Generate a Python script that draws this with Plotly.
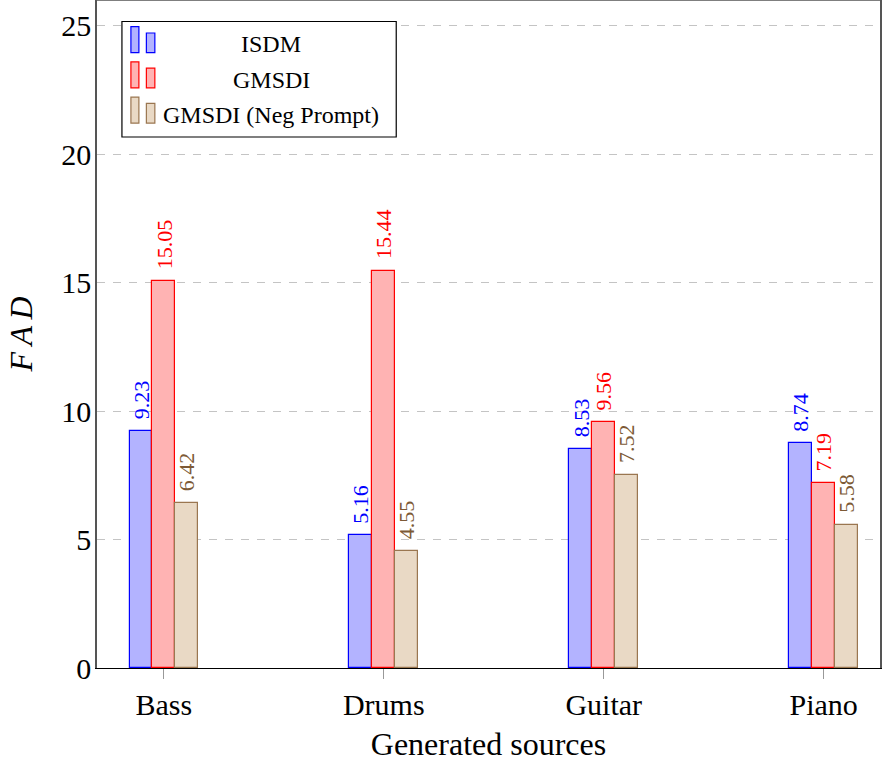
import plotly.graph_objects as go

# ---- data -------------------------------------------------------------
sources = ["Bass", "Drums", "Guitar", "Piano"]
series_names = ["ISDM", "GMSDI", "GMSDI (Neg Prompt)"]
isdm = [9.23, 5.16, 8.53, 8.74]
gmsdi = [15.05, 15.44, 9.56, 7.19]
gmsdi_neg = [6.42, 4.55, 7.52, 5.58]
y_ticks = [0, 5, 10, 15, 20, 25]

# ---- styling ----------------------------------------------------------
FONT = "Liberation Serif, DejaVu Serif, serif"
fills = ["#b3b3ff", "#ffb3b3", "#e9d9c5"]
edges = ["#0000ff", "#ff0000", "#9a7650"]
label_colors = ["#0000ff", "#ff0000", "#7d5a36"]

W, H = 882, 767
ML, MR, MT, MB = 97, 0, 0, 99
PW, PH = W - ML - MR, H - MT - MB

BAR_W = 0.104
offsets = [-1.5 * BAR_W, -0.5 * BAR_W, 0.5 * BAR_W]
xpos = list(range(len(sources)))

fig = go.Figure()
for name, vals, fc, ec, off in zip(series_names, [isdm, gmsdi, gmsdi_neg], fills, edges, offsets):
    fig.add_trace(go.Bar(
        x=xpos, y=vals, name=name,
        width=BAR_W, offset=off,
        marker=dict(color=fc, line=dict(color=ec, width=1.2)),
        showlegend=False,
    ))

# value labels above bars, rotated
annotations = []
for vals, lc, off in zip([isdm, gmsdi, gmsdi_neg], label_colors, offsets):
    for xi, v in zip(xpos, vals):
        annotations.append(dict(
            x=xi + off + BAR_W / 2, y=v, xref="x", yref="y",
            text=f"{v:.2f}", showarrow=False, textangle=-90,
            xanchor="center", yanchor="bottom", yshift=10,
            font=dict(family=FONT, size=22, color=lc),
        ))


def px_x(x):
    return (x - ML) / PW


def px_y(y):
    return (MT + PH - y) / PH


# custom legend box
shapes = [dict(type="rect", xref="paper", yref="paper",
               x0=px_x(122), x1=px_x(397), y0=px_y(137), y1=px_y(21.5),
               fillcolor="white", line=dict(color="black", width=1.2), layer="above")]
for i, (name, fc, ec) in enumerate(zip(series_names, fills, edges)):
    dy = 35.2 * i
    shapes.append(dict(type="rect", xref="paper", yref="paper",
                       x0=px_x(131), x1=px_x(139), y0=px_y(52.7 + dy), y1=px_y(26.7 + dy),
                       fillcolor=fc, line=dict(color=ec, width=1.2), layer="above"))
    shapes.append(dict(type="rect", xref="paper", yref="paper",
                       x0=px_x(146.5), x1=px_x(155), y0=px_y(52.7 + dy), y1=px_y(33 + dy),
                       fillcolor=fc, line=dict(color=ec, width=1.2), layer="above"))
    annotations.append(dict(
        x=px_x(271.5), y=px_y(44.5 + dy), xref="paper", yref="paper",
        text=name, showarrow=False, xanchor="center", yanchor="middle",
        font=dict(family=FONT, size=24, color="black"),
    ))

# top frame line
shapes.append(dict(type="line", xref="paper", yref="paper",
                   x0=0, x1=1, y0=1, y1=1, line=dict(color="#555555", width=1.5)))

fig.update_layout(
    width=W, height=H,
    margin=dict(l=ML, r=MR, t=MT, b=MB, pad=0),
    plot_bgcolor="white", paper_bgcolor="white",
    font=dict(family=FONT, size=29, color="black"),
    bargap=0, barmode="overlay",
    annotations=annotations, shapes=shapes,
    xaxis=dict(
        range=[-0.3039, 3.2562],
        tickvals=xpos, ticktext=sources,
        ticks="outside", ticklen=10, tickcolor="#999999", tickwidth=1,
        showline=True, linecolor="black", linewidth=1.3,
        showgrid=False, zeroline=False,
        tickfont=dict(family=FONT, size=30),
        title=dict(text="Generated sources", font=dict(family=FONT, size=32), standoff=12),
    ),
    yaxis=dict(
        range=[0, 26],
        tickvals=y_ticks,
        ticks="", ticklen=0, ticklabelstandoff=-2,
        showline=True, linecolor="#555555", linewidth=1.5, mirror=True,
        showgrid=True, gridcolor="#c4c4c4", gridwidth=1.2, griddash="8px,8px",
        zeroline=False,
        tickfont=dict(family=FONT, size=30),
        title=dict(text="<i>F\u2009A\u2009D</i>", font=dict(family=FONT, size=32), standoff=19),
    ),
)

fig.write_html("out.html")
